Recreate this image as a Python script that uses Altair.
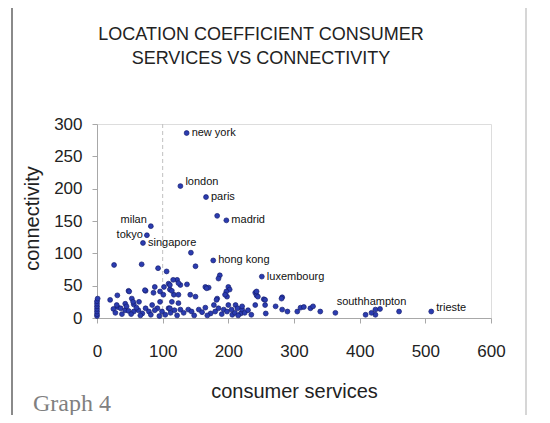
import altair as alt
import pandas as pd

# ---- data ----
cities = ["new york", "london", "paris", "madrid", "milan", "tokyo", "singapore",
          "hong kong", "luxembourg", "southhampton", "trieste"]
city_x = [136.5, 127, 166, 197, 82, 76, 70, 177, 251, 418, 509]
city_y = [286, 204, 187, 151, 142, 128, 116, 89, 64, 8, 10]

other_x = [183, 143, 150, 187, 185, 26, 68, 93, 106,
           0, 0, 0, 0, 0, 0, 0, 1,
           20, 31, 48, 53, 74, 88, 86, 96, 102,
           31, 36, 43, 48, 56, 63, 69, 74, 79, 84, 92, 96, 99, 104, 109, 64, 56, 43,
           109, 122, 127, 137, 165, 170, 200, 202, 111, 117, 124, 142, 150, 183, 198,
           114, 124, 111, 127, 139, 144, 155, 173, 178, 185, 193, 200, 205, 211, 214, 219, 206,
           241, 243, 254, 241, 256, 272, 282, 282, 290, 257, 305, 310, 315, 325, 329, 340, 221, 221,
           363, 409, 424, 431, 460, 424,
           30, 49, 55, 73, 101, 111, 116, 124, 114, 167, 197, 195, 182, 243, 245, 256, 281,
           25, 28, 38, 45, 52, 60, 66, 82, 88, 95, 112, 118, 122, 132, 148, 160, 165, 168,
           180, 190, 198, 210, 215, 225, 230, 235]
other_y = [158, 101, 80, 66, 61, 82, 83, 77, 72,
           3, 6, 10, 14, 18, 22, 26, 30,
           28, 35, 42, 30, 42, 48, 39, 41, 48,
           17, 15, 12, 11, 10, 12, 7, 15, 10, 20, 15, 25, 10, 5, 15, 25, 21, 22,
           53, 59, 51, 52, 48, 47, 48, 44, 44, 36, 36, 36, 33, 30, 33,
           25, 23, 15, 13, 13, 10, 13, 7, 20, 15, 13, 20, 13, 20, 15, 7, 5,
           39, 35, 29, 20, 20, 18, 32, 13, 10, 7, 10, 16, 17, 15, 18, 10, 13, 18,
           8, 5, 13, 14, 10, 5,
           20, 41, 25, 43, 36, 51, 59, 54, 42, 46, 41, 36, 28, 41, 33, 28, 30,
           14, 8, 6, 18, 6, 16, 4, 5, 12, 3, 8, 12, 4, 8, 4, 9, 16, 4,
           10, 6, 10, 8, 4, 8, 12, 5]

divider = [100]
x_ticks = [0, 100, 200, 300, 400, 500, 600]
y_ticks = [0, 50, 100, 150, 200, 250, 300]
title_lines = ["LOCATION COEFFICIENT CONSUMER", "SERVICES VS CONNECTIVITY"]

right_labels = ["new york", "paris", "madrid", "singapore", "hong kong", "luxembourg"]
right_raised = ["london", "trieste"]
left_raised = ["milan"]
left_labels = ["tokyo"]
above_labels = ["southhampton"]

FONT = "Liberation Sans"

pts = pd.DataFrame({"x": other_x + city_x, "y": other_y + city_y})
lab = pd.DataFrame({"name": cities, "x": city_x, "y": city_y})

xscale = alt.Scale(domain=[0, 600], nice=False)
yscale = alt.Scale(domain=[0, 300], nice=False)

xaxis = alt.Axis(values=x_ticks, grid=False, domainColor="#a8a8a8", tickColor="#a8a8a8",
                 tickSize=5, labelFontSize=17, labelFont=FONT, labelColor="#222222",
                 labelPadding=20, labelOverlap=False, labelFlush=False,
                 title="consumer services", titleFont=FONT,
                 titleFontSize=20, titleFontWeight="normal", titleColor="#222222",
                 titleY=79, titleBaseline="alphabetic")
yaxis = alt.Axis(values=y_ticks, grid=False, domainColor="#a8a8a8", tickColor="#a8a8a8",
                 tickSize=5, labelFontSize=17, labelFont=FONT, labelColor="#222222",
                 labelPadding=10, labelOverlap=False, labelFlush=False,
                 title="connectivity", titleFont=FONT,
                 titleFontSize=20, titleFontWeight="normal", titleColor="#222222",
                 titleAngle=270, titleX=-59, titleY=94, titleBaseline="alphabetic")

X = lambda: alt.X("x:Q", scale=xscale, axis=xaxis)
Y = lambda: alt.Y("y:Q", scale=yscale, axis=yaxis)

rule = alt.Chart(pd.DataFrame({"x": divider})).mark_rule(
    color="#c0c0c0", strokeDash=[4, 3], strokeWidth=1
).encode(x=X())

points = alt.Chart(pts).mark_circle(
    size=24, color="#2b3cb0", opacity=1, stroke="#141c70", strokeWidth=0.7
).encode(x=X(), y=Y())


def labels(names, align, dx, dy):
    return alt.Chart(lab).transform_filter(
        alt.FieldOneOfPredicate(field="name", oneOf=names)
    ).mark_text(font=FONT, fontSize=11, color="#111111", align=align,
                baseline="middle", dx=dx, dy=dy).encode(x=X(), y=Y(), text="name:N")


frame_df = pd.DataFrame({"k": [0]})
frame_left = alt.Chart(frame_df).mark_rule(color="#8a8a8a", strokeWidth=2).encode(
    x=alt.value(-85), y=alt.value(-119), y2=alt.value(310))
frame_top = alt.Chart(frame_df).mark_rule(color="#d0d0d0", strokeWidth=1.5).encode(
    x=alt.value(-85), x2=alt.value(429), y=alt.value(-119))
frame_right = alt.Chart(frame_df).mark_rule(color="#c8c8c8", strokeWidth=1.5).encode(
    x=alt.value(429), y=alt.value(-119), y2=alt.value(310))
graph_note = alt.Chart(frame_df).mark_text(
    text="Graph 4", font="Liberation Serif", fontSize=24, color="#808080",
    align="left", baseline="alphabetic").encode(x=alt.value(-64), y=alt.value(287))
title1 = alt.Chart(frame_df).mark_text(
    text=title_lines[0], font=FONT, fontSize=18, color="#222222",
    align="center", baseline="middle").encode(x=alt.value(164), y=alt.value(-89))
title2 = alt.Chart(frame_df).mark_text(
    text=title_lines[1], font=FONT, fontSize=18, color="#222222",
    align="center", baseline="middle").encode(x=alt.value(164), y=alt.value(-65))

chart = alt.layer(
    frame_left, frame_top, frame_right, graph_note, title1, title2, rule, points,
    labels(right_labels, "left", 5, 0),
    labels(right_raised, "left", 5, -4),
    labels(left_raised, "right", -4, -6),
    labels(left_labels, "right", -4, 0),
    labels(above_labels, "center", 0, -11),
).properties(
    width=394, height=194,
    padding={"left": 89, "top": 116, "right": 51, "bottom": 97},
    autosize=alt.AutoSizeParams(type="none"),
).configure_view(stroke=None).configure(background="white")

chart.save("out.html", embed_options={"renderer": "svg", "actions": False})
